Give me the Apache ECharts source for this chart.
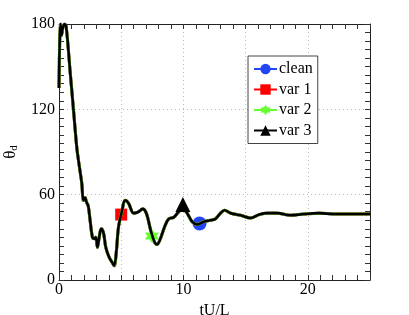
<!DOCTYPE html>
<html><head><meta charset="utf-8">
<script src="https://cdn.jsdelivr.net/npm/echarts@6/dist/echarts.min.js"></script>
<style>html,body{margin:0;padding:0;background:#fff}#c{width:409px;height:315px}</style>
</head><body><div id="c"></div>
<script>
const seriesNames = ['clean', 'var 1', 'var 2', 'var 3'];
const seriesColors = ['#2346f5', '#ff0000', '#66ff33', '#000000'];
const tValues = [0, 0.05, 0.12, 0.2, 0.3, 0.45, 0.58, 0.9, 1.2, 1.43, 1.6, 1.83, 1.96, 2.1, 2.2, 2.35, 2.5, 2.69, 2.85, 2.96, 3.09, 3.23, 3.39, 3.58, 3.76, 4.03, 4.3, 4.44, 4.6, 4.78, 5.05, 5.32, 5.59, 6.0, 6.4, 6.72, 7.02, 7.34, 7.66, 7.88, 8.15, 8.47, 8.82, 9.22, 9.62, 9.97, 10.3, 10.7, 11.1, 11.64, 12.18, 12.58, 12.98, 13.3, 13.8, 14.6, 15.4, 16.1, 16.75, 17.55, 18.6, 19.7, 20.9, 22.1, 23.5, 25];
const thetaValues = [135, 165, 180, 172, 177, 180, 178, 146, 116, 93, 82, 68, 56, 58, 55, 52, 42, 30, 29, 30, 23, 30, 36, 33, 23, 16, 12, 10, 19, 37, 48, 56, 54, 47, 48, 50, 47, 36, 27, 25, 29, 37, 43, 44, 48, 50, 47, 41, 39, 41, 42, 43, 47, 49, 47, 45.5, 43.6, 46, 47, 47, 45.5, 46.4, 47, 46.4, 46.4, 46.4];
const markerT = [11.3, 5.0, 7.47, 9.96];
const markerTheta = [39.7, 46, 31, 53];
const xTickLabels = ['0', '10', '20'];
const yTickLabels = ['0', '60', '120', '180'];

const star = 'path://M0,-10 L2.9,-5 L8.66,-5 L5.8,0 L8.66,5 L2.9,5 L0,10 L-2.9,5 L-8.66,5 L-5.8,0 L-8.66,-5 L-2.9,-5 Z';
const symbols = ['circle', 'rect', star, 'triangle'];
const symbolSizes = [14, 12, 14, 15];
const font = 'Liberation Serif';
const curve = tValues.map((t, i) => [t, thetaValues[i]]);

const grid = '#b8b8b8', none = 'rgba(0,0,0,0)';
const chart = echarts.init(document.getElementById('c'));
const axisLine = () => ({show: true, onZero: false, lineStyle: {color: '#222', width: 1}});
const tick = () => ({show: true, inside: true, length: 5, lineStyle: {color: '#333', width: 1}});
const xGrid = {show: true, lineStyle: {type: [1, 3], color: [grid, none, none, none, none]}};
const yGrid = {show: true, lineStyle: {type: [1, 3], color: [grid, none, none, none, none, none, none, none, none, none]}};
const labelStyle = {fontFamily: font, fontSize: 16, color: '#000'};
chart.setOption({
  animation: false,
  backgroundColor: '#fff',
  grid: {left: 59, right: 39, top: 24, bottom: 35, containLabel: false, outerBoundsMode: 'none'},
  legend: {
    left: 248, top: 56, orient: 'vertical', itemGap: 4.5, itemWidth: 23, itemHeight: 13,
    padding: [5, 5, 5, 5], borderColor: '#444', borderWidth: 1, backgroundColor: '#fff',
    textStyle: {fontFamily: font, fontSize: 16, color: '#000', padding: [0, 0, 0, -3]},
    data: seriesNames
  },
  xAxis: [
    {type: 'value', min: 0, max: 25, interval: 1, name: 'tU/L', nameLocation: 'middle', nameGap: 17,
     nameTextStyle: labelStyle,
     axisLine: axisLine(), axisTick: tick(),
     axisLabel: Object.assign({margin: 2, formatter: v => xTickLabels.includes(String(v)) ? String(v) : ''}, labelStyle),
     splitLine: xGrid},
    {type: 'value', min: 0, max: 25, interval: 1, position: 'top', axisLine: axisLine(), axisTick: tick(),
     axisLabel: {show: false}, splitLine: {show: false}}
  ],
  yAxis: [
    {type: 'value', min: 0, max: 180, interval: 6, name: 'θ{d|d}', nameLocation: 'middle', nameGap: 31, nameRotate: 90,
     nameTextStyle: {fontFamily: font, fontSize: 17, color: '#000', rich: {d: {fontFamily: font, fontSize: 11, verticalAlign: 'bottom', padding: [9, 0, 0, 0]}}},
     axisLine: axisLine(), axisTick: tick(),
     axisLabel: Object.assign({margin: 4, formatter: v => yTickLabels.includes(String(v)) ? String(v) : ''}, labelStyle),
     splitLine: yGrid},
    {type: 'value', min: 0, max: 180, interval: 6, position: 'right', axisLine: axisLine(), axisTick: tick(),
     axisLabel: {show: false}, splitLine: {show: false}}
  ],
  series: seriesNames.map((name, i) => ({
    name, type: 'line', data: curve, smooth: 0.35, showSymbol: false,
    symbol: symbols[i], symbolSize: 12, z: 2 + i,
    itemStyle: {color: seriesColors[i]},
    lineStyle: {color: seriesColors[i], width: i === 3 ? 2.6 : 3.0},
    markPoint: {
      z: 2 + i,
      symbol: symbols[i], symbolSize: symbolSizes[i],
      itemStyle: {color: seriesColors[i]},
      label: {show: false},
      data: [{coord: [markerT[i], markerTheta[i]]}]
    }
  }))
});
</script></body></html>
